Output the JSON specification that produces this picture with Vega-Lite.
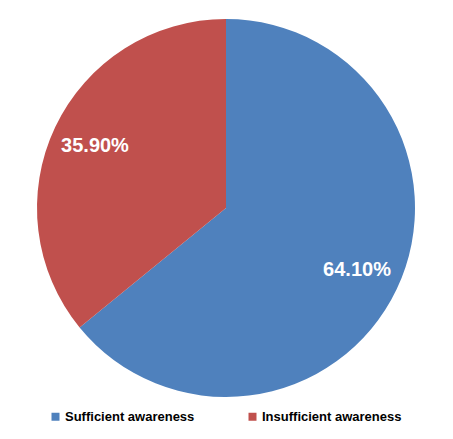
{
  "$schema": "https://vega.github.io/schema/vega-lite/v6.json",
  "autosize": {"type": "none"},
  "width": 378,
  "height": 378,
  "padding": {"left": 37, "top": 19, "right": 38, "bottom": 42},
  "background": "white",
  "config": {"view": {"stroke": null}},
  "data": {
    "values": [
      {"category": "Sufficient awareness", "value": 64.1, "label": "64.10%", "rank": 1},
      {"category": "Insufficient awareness", "value": 35.9, "label": "35.90%", "rank": 2}
    ]
  },
  "encoding": {
    "theta": {"field": "value", "type": "quantitative", "stack": true},
    "order": {"field": "rank", "type": "quantitative"}
  },
  "layer": [
    {
      "mark": {"type": "arc", "stroke": null},
      "encoding": {
        "color": {
          "field": "category",
          "type": "nominal",
          "scale": {"domain": ["Sufficient awareness", "Insufficient awareness"], "range": ["#4F81BD", "#C0504D"]},
          "legend": {
            "title": null,
            "orient": "none",
            "legendX": 12,
            "legendY": 391,
            "direction": "horizontal",
            "columns": 2,
            "columnPadding": 51,
            "symbolType": "square",
            "symbolSize": 64,
            "symbolStrokeWidth": 0,
            "labelOffset": 3,
            "labelFont": "Liberation Sans",
            "labelFontWeight": "bold",
            "labelFontSize": 13,
            "labelColor": "black",
            "padding": 0
          }
        }
      }
    },
    {
      "mark": {"type": "text", "radius": 145, "font": "Liberation Sans", "fontWeight": "bold", "fontSize": 20, "color": "white", "align": "center", "baseline": "middle"},
      "encoding": {"text": {"field": "label", "type": "nominal"}}
    }
  ]
}
